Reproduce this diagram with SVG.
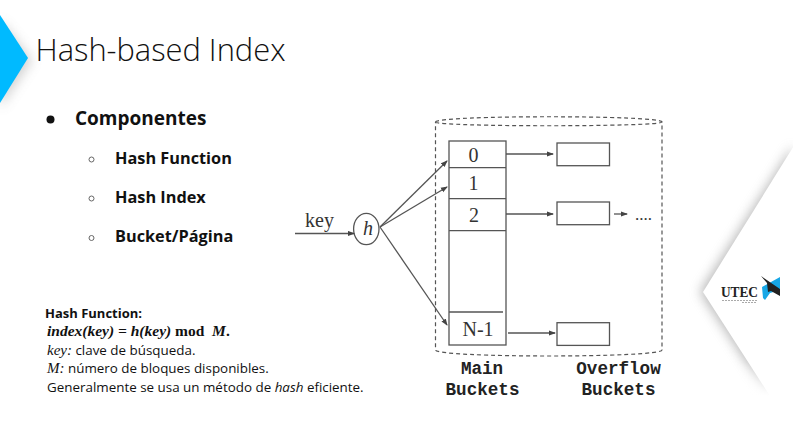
<svg xmlns="http://www.w3.org/2000/svg" width="793" height="433" viewBox="0 0 793 433">
<style>
.s{font-family:"Open Sans","Noto Sans",sans-serif;fill:#111}
.b{font-weight:700;font-size:16.3px}
.n{font-size:13.4px}
.t{font-family:"Liberation Serif",serif;fill:#333}
.m{font-family:"Liberation Mono",monospace;font-weight:700;font-size:17.6px;fill:#222;text-anchor:middle}
.l{fill:none;stroke:#555;stroke-width:1.3}
.box{fill:#fff;stroke:#555;stroke-width:1.3}
.d{fill:none;stroke:#555;stroke-width:1.2;stroke-dasharray:4 3}
</style>
<defs>
<marker id="a" markerWidth="7" markerHeight="6" refX="6" refY="3" orient="auto" markerUnits="userSpaceOnUse"><path d="M0 0.4L7 3L0 5.600z" fill="#444"/></marker>
<filter id="sh" x="-40%" y="-30%" width="180%" height="160%"><feGaussianBlur stdDeviation="6"/></filter>
<linearGradient id="fade" x1="0" y1="0" x2="0" y2="1"><stop offset="0" stop-color="#fff" stop-opacity="0"/><stop offset="1" stop-color="#fff"/></linearGradient>
</defs>
<rect width="793" height="433" fill="#fff"/>
<g id="corner-left">
<path d="M0 20L32 60L0 108z" fill="#999" opacity=".45" filter="url(#sh)"/>
<path d="M0 15L28 58L0 103z" fill="#00baff"/>
</g>
<g id="corner-right">
<path d="M793 146L700 292L768 395L793 395z" fill="#888" opacity=".6" filter="url(#sh)"/>
<rect x="680" y="362" width="113" height="34" fill="url(#fade)"/>
<rect x="680" y="396" width="113" height="37" fill="#fff"/>
<path d="M800 136L703 292L770 396L800 433z" fill="#fff"/>
<text x="721" y="297" font-family="Liberation Serif,serif" font-weight="700" font-size="15" textLength="37" lengthAdjust="spacingAndGlyphs" fill="#222">UTEC</text>
<path d="M722 300.500H757M742 302.500H757" stroke="#aaa" stroke-width="1" stroke-dasharray="2 1"/>
<path d="M762 287L780 277V290L770 293L765 300L763 298z" fill="#17a7e6"/>
<path d="M761 276L780 289V296L771 291L768 292L767 283z" fill="#222"/>
</g>
<g id="title"><text class="s" x="35.500" y="61" font-size="31" font-weight="300" textLength="250" lengthAdjust="spacingAndGlyphs">Hash-based Index</text></g>
<g id="bullets">
<circle cx="50.500" cy="119.500" r="4" fill="#111"/>
<text class="s" x="75" y="124.500" font-size="19" font-weight="700">Componentes</text>
<g fill="#fff" stroke="#666" stroke-width="1"><circle cx="91.500" cy="159.500" r="2.500"/><circle cx="91.500" cy="198.500" r="2.500"/><circle cx="91.500" cy="238" r="2.500"/></g>
<text class="s b" x="115" y="164">Hash Function</text>
<text class="s b" x="115" y="203">Hash Index</text>
<text class="s b" x="115" y="242">Bucket/Página</text>
</g>
<g id="notes">
<text class="s" x="45" y="318" font-weight="700" font-size="13">Hash Function:</text>
<text x="47" y="336" font-family="Liberation Serif,serif" font-size="15.500" font-weight="700" fill="#111"><tspan font-style="italic">index(key) = h(key)</tspan> mod&#160; <tspan font-style="italic">M</tspan>.</text>
<text class="s n" x="47" y="355"><tspan font-family="Liberation Serif,serif" font-style="italic" font-size="15">key:</tspan> clave de búsqueda.</text>
<text class="s n" x="47" y="373"><tspan font-family="Liberation Serif,serif" font-style="italic" font-size="15">M:</tspan> número de bloques disponibles.</text>
<text class="s n" x="47" y="392">Generalmente se usa un método de <tspan font-style="italic">hash</tspan> eficiente.</text>
</g>
<g id="container"><path class="d" d="M435.500 122C436 115 662 115 662 122V350C662 358 436 358 435.500 350ZM435.500 122C436 127 662 127 662 122"/></g>
<g id="main-buckets">
<rect class="box" x="449" y="141" width="57" height="204"/>
<path class="l" d="M449 167.700H506M449 198.700H506M449 230.700H506M449 312H503"/>
<g class="t" font-size="20" text-anchor="middle"><text x="473.500" y="162">0</text><text x="473.500" y="190">1</text><text x="474" y="222">2</text><text x="478" y="336">N-1</text></g>
</g>
<g id="overflow-0"><rect class="box" x="557" y="143" width="52.500" height="22.700"/></g>
<g id="overflow-1"><rect class="box" x="557" y="202" width="52.500" height="22.700"/></g>
<g id="overflow-2"><rect class="box" x="557" y="322.700" width="52.500" height="22.700"/></g>
<g id="hash"><ellipse cx="366.300" cy="229" rx="12.700" ry="15.700" fill="#fff" stroke="#555" stroke-width="1.300"/><text class="t" x="368" y="235" font-size="20" font-style="italic" text-anchor="middle">h</text></g>
<g id="connectors">
<path class="l" d="M295 233.500H354" marker-end="url(#a)"/>
<path class="l" d="M380 227L447 161" marker-end="url(#a)"/>
<path class="l" d="M380 227L447 187" marker-end="url(#a)"/>
<path class="l" d="M380 227L447 325" marker-end="url(#a)"/>
<path class="l" d="M506 154H553" marker-end="url(#a)"/>
<path class="l" d="M506 214H553" marker-end="url(#a)"/>
<path class="l" d="M508 333H555" marker-end="url(#a)"/>
<path class="l" d="M614 214H627" marker-end="url(#a)"/>
</g>
<g id="labels">
<text class="t" x="305" y="227" font-size="20">key</text>
<text class="t" x="635" y="220" font-size="17">....</text>
<text class="m" x="482" y="374">Main</text>
<text class="m" x="482.500" y="394.500">Buckets</text>
<text class="m" x="618.500" y="374">Overflow</text>
<text class="m" x="618.500" y="394.500">Buckets</text>
</g>
</svg>
